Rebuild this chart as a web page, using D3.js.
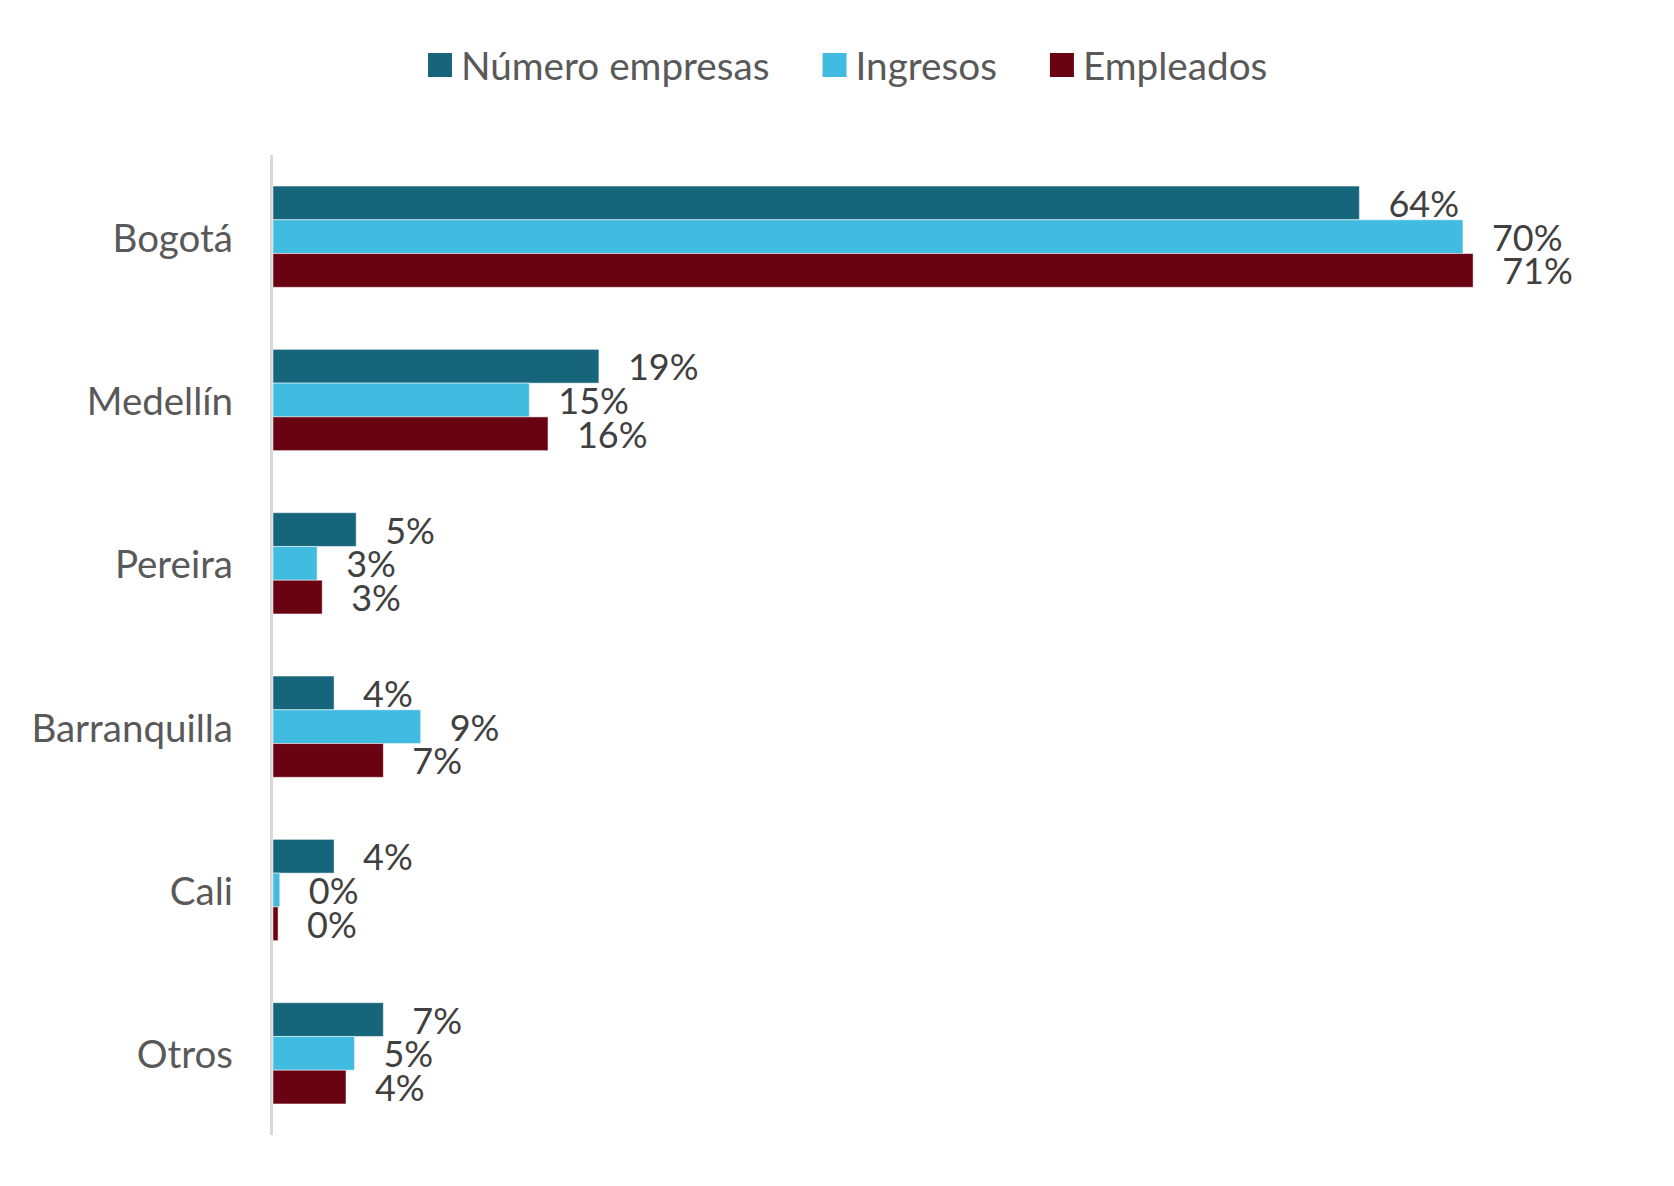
<!DOCTYPE html>
<html>
<head>
<meta charset="utf-8">
<script src="https://cdn.jsdelivr.net/npm/d3@7"></script>
<style>
  html, body { margin: 0; padding: 0; background: #ffffff; }
  svg { display: block; }
</style>
</head>
<body>
<svg id="chart" width="1674" height="1186"></svg>
<script>
const categories = ["Bogotá", "Medellín", "Pereira", "Barranquilla", "Cali", "Otros"];
const seriesNames = ["Número empresas", "Ingresos", "Empleados"];
const numeroEmpresas = [0.640, 0.192, 0.049, 0.036, 0.036, 0.065];
const ingresos       = [0.701, 0.151, 0.026, 0.087, 0.004, 0.048];
const empleados      = [0.707, 0.162, 0.029, 0.065, 0.003, 0.043];
const seriesColors = ["#16657a", "#41bbe0", "#690312"];

const seriesValues = [numeroEmpresas, ingresos, empleados];
const svg = d3.select("#chart");
const FONT = "Lato, 'Open Sans', sans-serif";

const x = d3.scaleLinear().domain([0, 0.8]).range([273, 1631]);
const y = d3.scaleBand().domain(categories).range([155, 1135]).paddingInner(0.38).paddingOuter(0.19);
const ySub = d3.scaleBand().domain(seriesNames).range([0, y.bandwidth()]).padding(0);

// axis line
svg.append("line")
  .attr("x1", 271.5).attr("x2", 271.5)
  .attr("y1", 155).attr("y2", 1135)
  .attr("stroke", "#d9d9d9").attr("stroke-width", 3);

// category labels
svg.append("g").selectAll("text").data(categories).join("text")
  .attr("x", 233)
  .attr("y", d => y(d) + y.bandwidth() / 2)
  .attr("text-anchor", "end")
  .attr("dominant-baseline", "central")
  .attr("font-family", FONT)
  .attr("font-size", 38.5)
  .attr("fill", "#595959")
  .text(d => d);

// bars
const rows = [];
categories.forEach((c, i) => {
  seriesNames.forEach((s, j) => {
    rows.push({ cat: c, series: s, value: seriesValues[j][i], color: seriesColors[j] });
  });
});

svg.append("g").selectAll("rect").data(rows).join("rect")
  .attr("x", x(0))
  .attr("y", d => y(d.cat) + ySub(d.series))
  .attr("width", d => x(d.value) - x(0))
  .attr("height", ySub.bandwidth())
  .attr("fill", d => d.color)
  .attr("stroke", "#ffffff")
  .attr("stroke-opacity", 0.5)
  .attr("stroke-width", 1);

// value labels
svg.append("g").selectAll("text").data(rows).join("text")
  .attr("x", d => x(d.value) + 29)
  .attr("y", d => y(d.cat) + ySub(d.series) + ySub.bandwidth() / 2)
  .attr("dominant-baseline", "central")
  .attr("font-family", FONT)
  .attr("font-size", 36)
  .attr("fill", "#404040")
  .text(d => Math.round(d.value * 100) + "%");

// legend
const legend = svg.append("g");
let lx = 428;
const ly = 65;
seriesNames.forEach((s, j) => {
  legend.append("rect")
    .attr("x", lx).attr("y", ly - 12)
    .attr("width", 24).attr("height", 24)
    .attr("fill", seriesColors[j]);
  const t = legend.append("text")
    .attr("x", lx + 33).attr("y", ly)
    .attr("dominant-baseline", "central")
    .attr("font-family", FONT)
    .attr("font-size", 38.7)
    .attr("fill", "#595959")
    .text(s);
  lx = lx + 33 + t.node().getComputedTextLength() + 53;
});
</script>
</body>
</html>
